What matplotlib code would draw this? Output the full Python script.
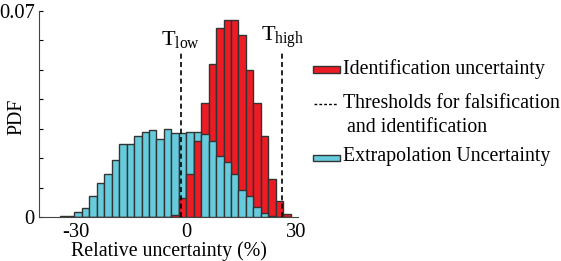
import matplotlib
matplotlib.use("Agg")
import matplotlib.pyplot as plt
import numpy as np
from matplotlib.patches import Rectangle
from matplotlib.lines import Line2D

plt.rcParams['font.family'] = 'Liberation Serif'
plt.rcParams['mathtext.fontset'] = 'custom'
plt.rcParams['mathtext.rm'] = 'Liberation Serif'

# histogram bins (relative uncertainty, %)
bin_start = -34.4
bin_width = 2.03

# PDF per bin
extrapolation = [0.0002, 0.0004, 0.0018, 0.0032, 0.0071, 0.0114, 0.0145, 0.0193,
                 0.0247, 0.0247, 0.0276, 0.0288, 0.0297, 0.0265, 0.0299, 0.0285,
                 0.0287, 0.0289, 0.0288, 0.0283, 0.0259, 0.0207, 0.0188, 0.0146,
                 0.0092, 0.0072, 0.0033, 0.0013, 0.0002, 0.0, 0.0]
identification = [0.0, 0.0, 0.0, 0.0, 0.0, 0.0, 0.0, 0.0,
                  0.0, 0.0, 0.0, 0.0, 0.0, 0.0, 0.0, 0.0006,
                  0.0063, 0.0146, 0.0259, 0.0386, 0.0520, 0.0641, 0.0669, 0.0669,
                  0.0618, 0.0499, 0.0386, 0.0275, 0.0128, 0.0053, 0.0010]

t_low = -1.4
t_high = 26.3

red = '#ED1C24'
blue = '#66CCDD'
edge = '#333333'
fs = 14.3

left_edges = bin_start + bin_width * np.arange(len(extrapolation))

fig = plt.figure(figsize=(5.61, 2.61), dpi=100)
ax = fig.add_axes([0.0695, 0.1686, 0.4615, 0.7894])

red_bars = ax.bar(left_edges, identification, width=bin_width, align='edge',
                  color=red, edgecolor=edge, linewidth=1.0, zorder=2)
blue_bars = ax.bar(left_edges, extrapolation, width=bin_width, align='edge',
                   color=blue, edgecolor=edge, linewidth=1.0, zorder=2)
# shorter bar of each bin sits in front
for rb, bb, r, b in zip(red_bars, blue_bars, identification, extrapolation):
    if r < b:
        rb.set_zorder(3)
    else:
        bb.set_zorder(3)

for t in [t_low, t_high]:
    ax.plot([t, t], [0, 0.056], color='black', lw=1.2, ls=(0, (3, 2)), zorder=4)
ax.text(t_low, 0.0563, r'T$_{\mathrm{low}}$', fontsize=16, ha='center', va='bottom')
ax.text(t_high, 0.0563, r'T$_{\mathrm{high}}$', fontsize=16, ha='center', va='bottom')

ax.set_xlim(-40, 30.5)
ax.set_ylim(0, 0.07)
ax.spines['top'].set_visible(False)
ax.spines['right'].set_visible(False)
for s in ['left', 'bottom']:
    ax.spines[s].set_color('#444444')

ax.set_xticks([-30, 0, 30])
ax.set_xticklabels(['-30', '0', '30'])
ax.tick_params(axis='x', length=0, pad=4, labelsize=fs + 0.5)
ax.set_yticks(np.arange(0, 0.0701, 0.01))
ax.set_yticklabels(['0', '', '', '', '', '', '', '0.07'])
ax.tick_params(axis='y', direction='in', length=3, pad=3, labelsize=fs + 0.5)

ax.set_xlabel('Relative uncertainty (%)', fontsize=fs, labelpad=0)
ax.set_ylabel('PDF', fontsize=fs)
ax.yaxis.set_label_coords(-0.05, 0.485)

# legend drawn by hand
def fx(px):
    return px / 561

def fy(py):
    return 1 - py / 261

fig.add_artist(Rectangle((fx(313), fy(72.5)), fx(27), 6.5 / 261, facecolor=red,
                         edgecolor=edge, lw=1.0, transform=fig.transFigure))
fig.text(fx(343), fy(69), 'Identification uncertainty', fontsize=fs, va='center')
fig.add_artist(Line2D([fx(314), fx(338)], [fy(103.5), fy(103.5)], color='black',
                      lw=1.0, ls=(0, (2, 1.5)), transform=fig.transFigure))
fig.text(fx(343), fy(104), 'Thresholds for falsification', fontsize=fs, va='center')
fig.text(fx(347), fy(127), 'and identification', fontsize=fs, va='center')
fig.add_artist(Rectangle((fx(313), fy(161)), fx(27), 6.5 / 261, facecolor=blue,
                         edgecolor=edge, lw=1.0, transform=fig.transFigure))
fig.text(fx(343), fy(157), 'Extrapolation Uncertainty', fontsize=fs, va='center')

fig.savefig('out.png', dpi=100)
